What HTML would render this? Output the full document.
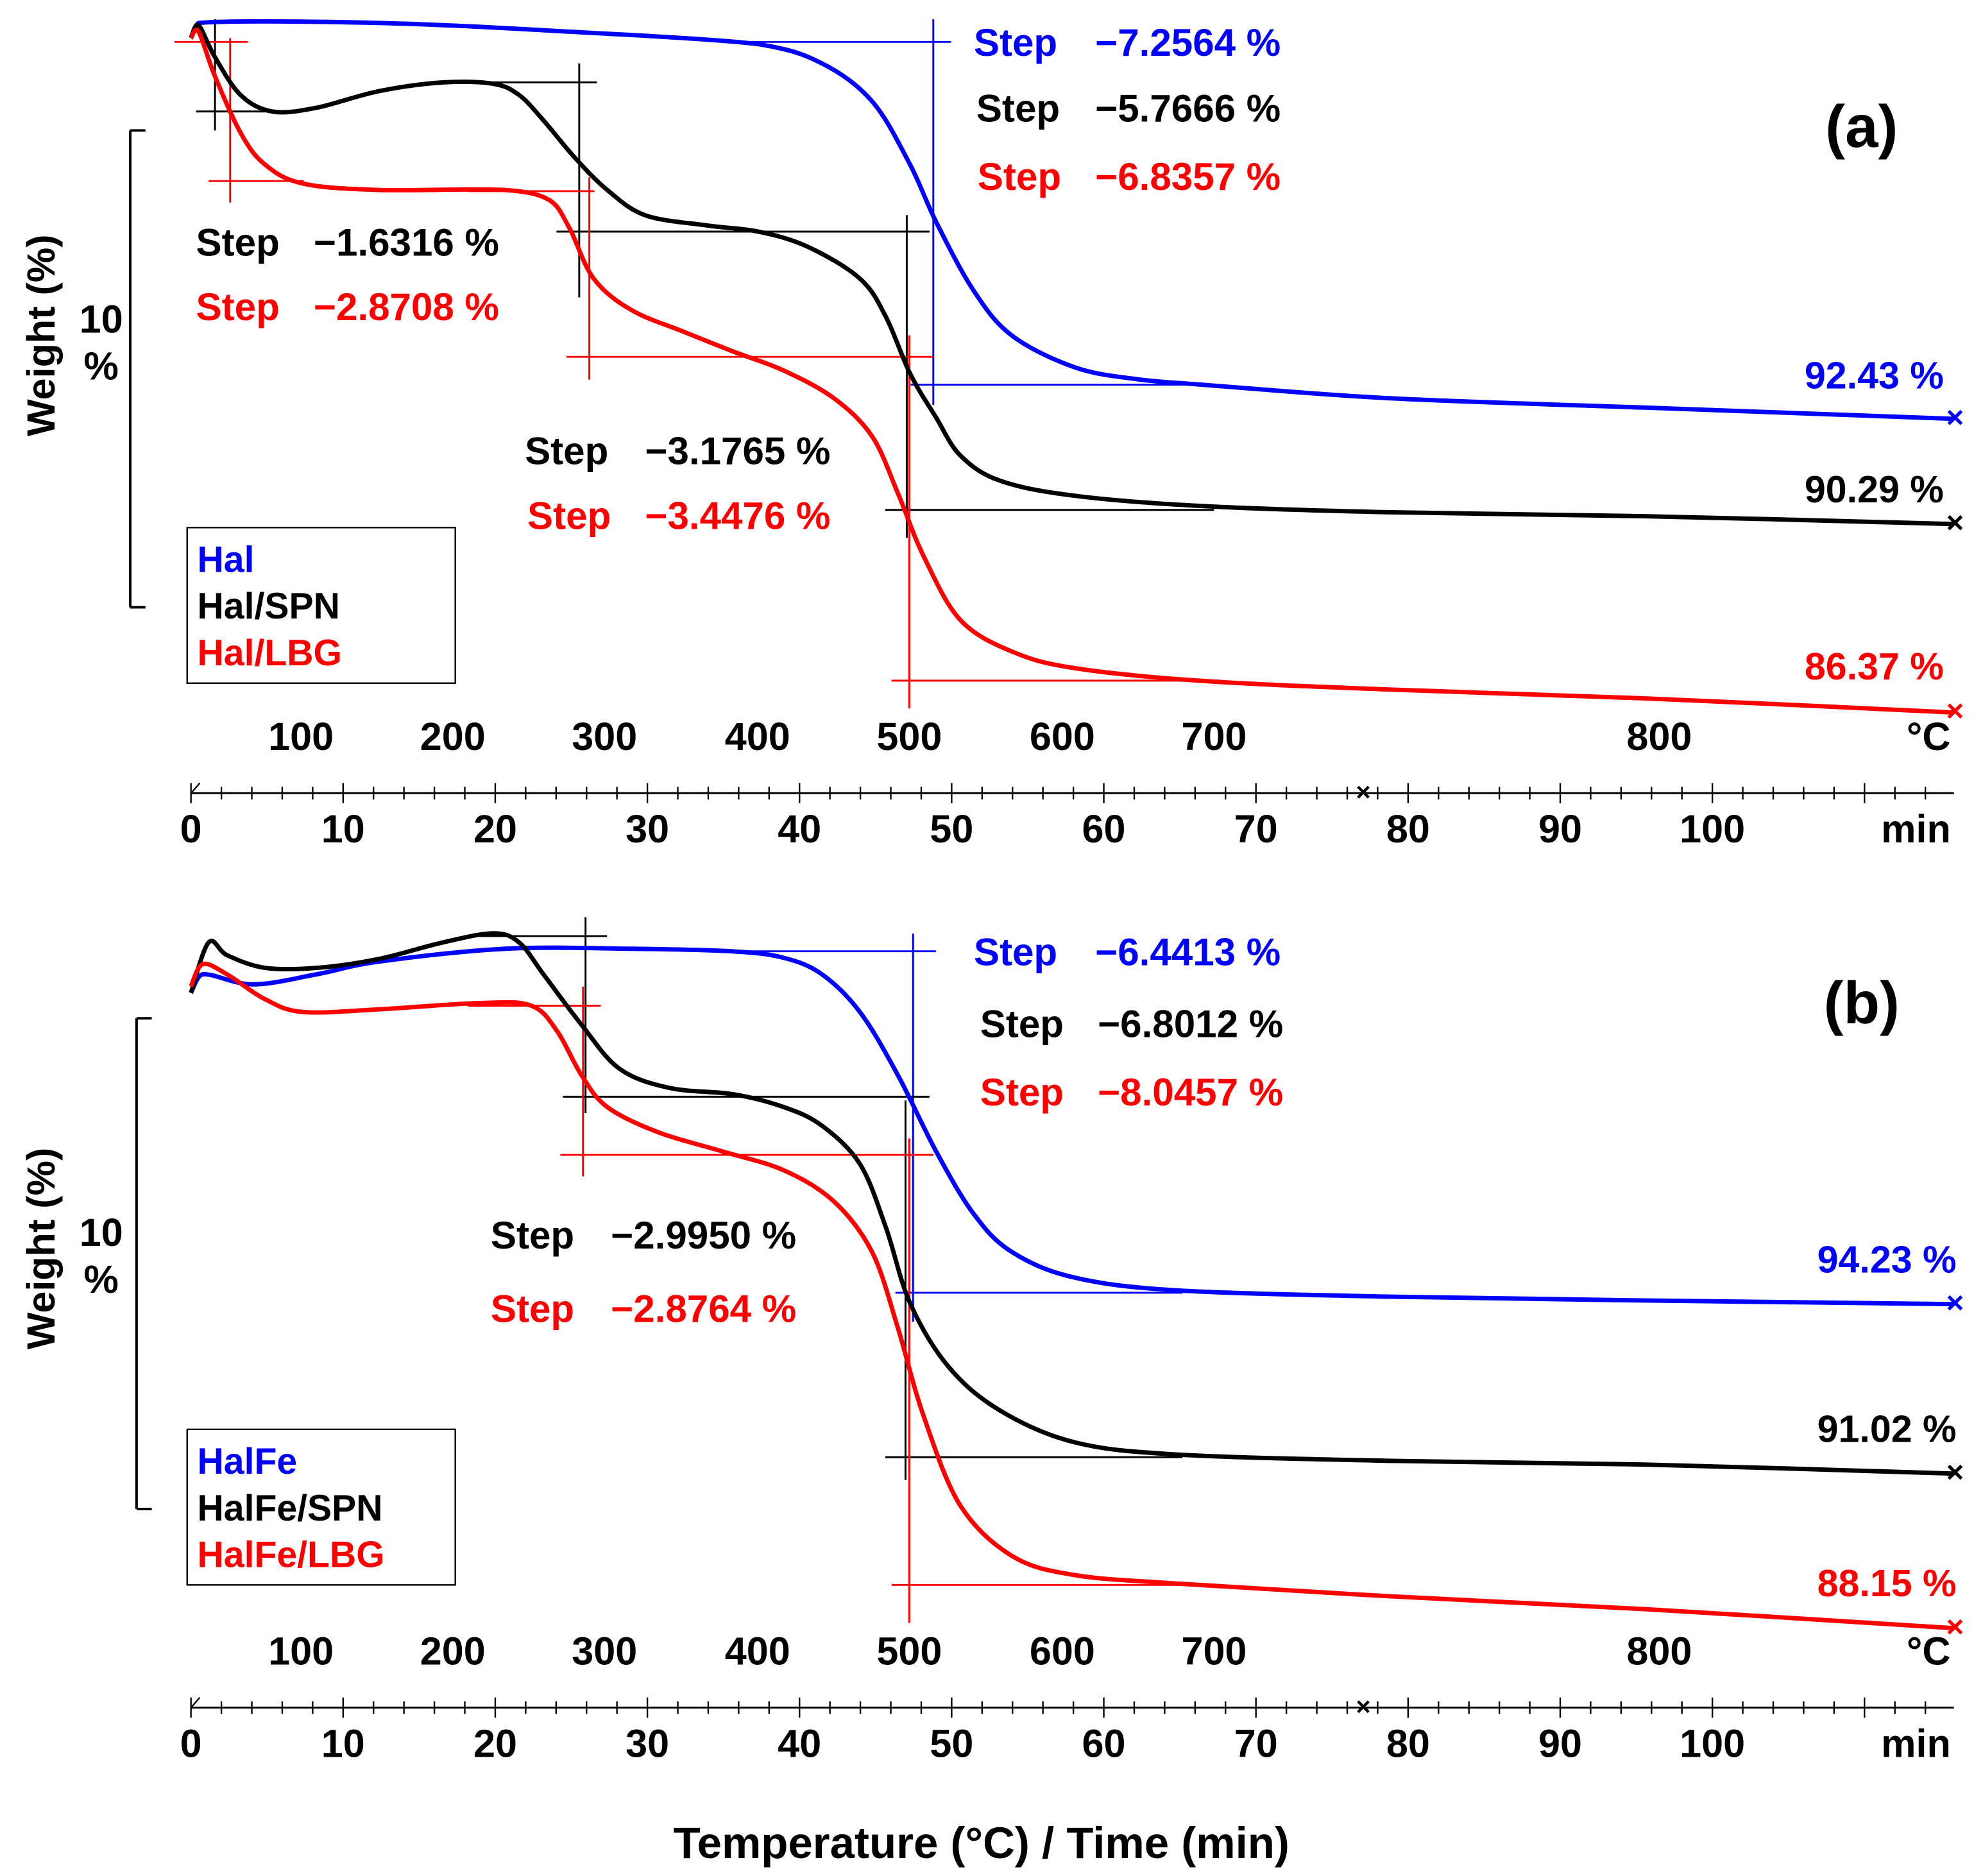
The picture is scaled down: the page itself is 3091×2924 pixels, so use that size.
<!DOCTYPE html>
<html><head><meta charset="utf-8"><style>
html,body{margin:0;padding:0;background:#fff}
svg{display:block}
text{font-family:"Liberation Sans",Arial,sans-serif;font-weight:bold}
</style></head><body>
<svg id="chart" width="3091" height="2924" viewBox="0 0 1568 1483" xmlns="http://www.w3.org/2000/svg">
<g id="static"></g>
<g id="curves"></g>
</svg>
<script>
// ---------- DATA ----------
const timeHalA = [0.33,0.83,12.7,25.2,37.7,41.8,45.1,47.6,49.3,51.8,54.3,58.4,62.6,67.6,79.2,95.8,116.2];
const wtHalA   = [100.25,100.56,100.56,100.38,100.12,99.73,98.95,97.65,96.48,95.05,94.14,93.49,93.24,93.11,92.85,92.66,92.43];
const timeSpnA = [0.33,0.83,1.9,3.6,5.7,8.6,12.7,16.9,20.2,21.9,23.5,25.6,27.7,30.2,34.3,37.7,40.9,44.3,46.0,47.6,49.3,50.9,53.5,58.4,66.7,79.2,95.8,116.2];
const wtSpnA   = [100.25,100.51,99.86,99.08,98.74,98.82,99.16,99.34,99.31,99.08,98.56,97.78,97.13,96.61,96.40,96.27,95.96,95.31,94.53,93.36,92.46,91.68,91.16,90.85,90.64,90.51,90.43,90.27];
const timeLbgA = [0.33,0.83,1.9,3.6,5.2,7.7,12.7,21.0,23.9,25.2,26.8,29.3,32.7,36.0,39.3,42.6,45.1,46.8,48.5,50.9,54.3,58.4,66.7,79.2,95.8,116.2];
const wtLbgA   = [100.25,100.38,99.47,98.30,97.65,97.26,97.13,97.13,96.92,96.35,95.31,94.66,94.22,93.81,93.42,92.85,92.07,90.90,89.60,88.30,87.65,87.31,87.05,86.87,86.69,86.40];

const timeHalB = [0.33,1.1,4.4,8.6,12.7,21.0,29.3,36.0,39.3,41.8,44.3,46.8,49.3,51.8,54.3,58.4,65.1,79.2,95.8,116.2];
const wtHalB   = [100.09,100.44,100.25,100.44,100.68,100.92,100.92,100.87,100.75,100.44,99.73,98.54,97.11,95.92,95.21,94.73,94.49,94.37,94.30,94.23];
const timeSpnB = [0.33,1.5,2.7,5.2,8.6,12.7,16.9,20.2,21.9,23.5,26.0,28.5,31.8,36.0,39.3,41.8,44.3,46.0,47.6,50.1,53.5,58.4,65.1,79.2,95.8,116.2];
const wtSpnB   = [100.09,101.04,100.80,100.56,100.56,100.73,101.04,101.21,101.04,100.44,99.49,98.66,98.30,98.18,97.94,97.59,96.87,95.68,94.25,93.06,92.23,91.63,91.40,91.28,91.21,91.04];
const timeLbgB = [0.33,1.1,2.7,5.2,7.7,12.7,19.4,22.7,24.4,26.0,27.7,31.0,35.2,39.3,42.6,45.1,46.8,48.5,50.9,54.3,58.4,65.1,79.2,95.8,116.2];
const wtLbgB   = [100.21,100.63,100.44,99.97,99.73,99.78,99.90,99.85,99.37,98.54,97.94,97.47,97.11,96.75,96.16,95.21,93.78,92.11,90.44,89.49,89.13,88.97,88.73,88.49,88.13];

const tempTicks = [100,200,300,400,500,600,700,800];
const tempTickX = [238,358,478,599,719,840,960,1312];
const timeTicks = [0,10,20,30,40,50,60,70,80,90,100];

// ---------- SCALES ----------
const xT = t => 147 + 12.03*t;
const yA = w => 331 + (92.43 - w)*38.5;
const yB = w => 1031 + (94.23 - w)*42;

const NS = "http://www.w3.org/2000/svg";
const S = document.getElementById('static');
const C = document.getElementById('curves');
function mk(tag, attrs, parent){const e=document.createElementNS(NS,tag);for(const k in attrs)e.setAttribute(k,attrs[k]);(parent||S).appendChild(e);return e;}
function txt(x,y,s,fill,size,anchor,name){const e=mk('text',{x:x,y:y,fill:fill,'font-size':size,'text-anchor':anchor||'start'});e.textContent=s;


return e;}
function ln(x1,y1,x2,y2,col,w,name){const e=mk('line',{x1:x1,y1:y1,x2:x2,y2:y2,stroke:col,'stroke-width':w||1.5});


return e;}
function smooth(pts){let d='M'+pts[0][0]+','+pts[0][1];for(let i=0;i<pts.length-1;i++){const p0=pts[Math.max(i-1,0)],p1=pts[i],p2=pts[i+1],p3=pts[Math.min(i+2,pts.length-1)];
const dx=p2[0]-p1[0];
let c1x=p1[0]+(p2[0]-p0[0])/6, c2x=p2[0]-(p3[0]-p1[0])/6;
c1x=Math.min(Math.max(c1x,p1[0]),p1[0]+dx*0.5); c2x=Math.max(Math.min(c2x,p2[0]),p2[0]-dx*0.5);
const c1=[c1x,p1[1]+(p2[1]-p0[1])/6],c2=[c2x,p2[1]-(p3[1]-p1[1])/6];
d+=' C'+c1[0].toFixed(1)+','+c1[1].toFixed(1)+' '+c2[0].toFixed(1)+','+c2[1].toFixed(1)+' '+p2[0].toFixed(1)+','+p2[1].toFixed(1);}return d;}
function curve(ts,ws,ys,col,name){const pts=ts.map((t,i)=>[xT(t),ys(ws[i])]);
const p=mk('path',{d:smooth(pts),fill:'none',stroke:col,'stroke-width':3.5},C);


const l=pts[pts.length-1];
const m=txt(l[0]+1,l[1]+7,'×',col,24,'middle',name+'-end-marker');C.appendChild(m);}

const BL='#0000ff',BK='#000000',RD='#ff0000';
curve(timeHalA,wtHalA,yA,BL,'curve-hal');
curve(timeSpnA,wtSpnA,yA,BK,'curve-hal-spn');
curve(timeLbgA,wtLbgA,yA,RD,'curve-hal-lbg');
curve(timeHalB,wtHalB,yB,BL,'curve-halfe');
curve(timeSpnB,wtSpnB,yB,BK,'curve-halfe-spn');
curve(timeLbgB,wtLbgB,yB,RD,'curve-halfe-lbg');

// ---------- PANEL FRAMES ----------
function panel(off,bracketTop,bracketBot,bx,label){
  const wl=txt(0,0,'Weight (%)','#000',31,'middle','y-axis-title');
  wl.setAttribute('transform','translate(43,'+(265+off.wy)+') rotate(-90)');
  txt(80,265+off.wy-2,'10','#000',31,'middle','scale-bar-value');
  txt(80,302+off.wy-2,'%','#000',31,'middle','scale-bar-unit');
  ln(bx+12,bracketTop,bx,bracketTop,'#000',2,'scale-bar-top');
  ln(bx,bracketTop,bx,bracketBot,'#000',2,'scale-bar');
  ln(bx,bracketBot,bx+12,bracketBot,'#000',2,'scale-bar-bottom');
  tempTicks.forEach((v,i)=>txt(tempTickX[i],593+off.y,String(v),'#000',31,'middle','temperature-tick-label'));
  txt(1525,593+off.y,'°C','#000',31,'middle','temperature-unit');
  const ay=627+off.y;
  ln(151,ay,1545,ay,'#000',1.5,'time-axis-line');
  for(let t=0;t<=115;t+=2){const x=xT(t)+4;const major=t%10===0;ln(x,ay-(major?8:5),x,ay+(major?8:5),'#000',1.2,'time-tick');}
  txt(1078,ay+6,'×','#000',20,'middle','axis-break');
  ln(151,ay,158,ay-8,'#000',1.2,'axis-arrow');
  timeTicks.forEach(v=>txt(xT(v)+4,666+off.y,String(v),'#000',31,'middle','time-tick-label'));
  txt(1515,666+off.y,'min','#000',31,'middle','time-unit');
  txt(1472,116+off.y2,label,'#000',47,'middle','panel-label');
}
panel({y:0,wy:0,y2:0},103,480,103,'(a)');
panel({y:723,wy:722,y2:693},805,1193,108,'(b)');

function legend(y0,names){const r=mk('rect',{x:148,y:y0,width:212,height:123,fill:'none',stroke:'#000','stroke-width':1.2});

[BL,BK,RD].forEach((c,i)=>txt(156,y0+35+i*37,names[i],c,29,'start','legend-entry'));}
legend(417,['Hal','Hal/SPN','Hal/LBG']);
legend(1130,['HalFe','HalFe/SPN','HalFe/LBG']);

function step(x,vx,y,val,c){txt(x,y,'Step',c,30.5,'start','step-label');txt(vx,y,'\u2212'+val+' %',c,30.5,'start','step-value');}
step(770,866,44,'7.2564',BL);step(772,866,96,'5.7666',BK);step(773,866,150,'6.8357',RD);
step(155,248,202,'1.6316',BK);step(155,248,253,'2.8708',RD);
step(415,510,367,'3.1765',BK);step(417,510,418,'3.4476',RD);
step(770,866,763,'6.4413',BL);step(775,868,820,'6.8012',BK);step(775,868,874,'8.0457',RD);
step(388,483,987,'2.9950',BK);step(388,483,1045,'2.8764',RD);

txt(1537,307,'92.43 %',BL,30,'end','residue-hal');
txt(1537,397,'90.29 %',BK,30,'end','residue-hal-spn');
txt(1537,537,'86.37 %',RD,30,'end','residue-hal-lbg');
txt(1547,1006,'94.23 %',BL,30,'end','residue-halfe');
txt(1547,1140,'91.02 %',BK,30,'end','residue-halfe-spn');
txt(1547,1262,'88.15 %',RD,30,'end','residue-halfe-lbg');

const A=[
[580,33,752,33,BL],[738,15,738,320,BL],[720,304,960,304,BL],
[170,15,170,103,BK],[155,88,225,88,BK],[380,65,472,65,BK],[458,50,458,235,BK],[440,183,735,183,BK],[717,170,717,425,BK],[700,403,960,403,BK],
[138,33,196,33,RD],[182,30,182,160,RD],[165,143,240,143,RD],[370,151,470,151,RD],[466,140,466,300,RD],[448,282,738,282,RD],[719,265,719,560,RD],[705,538,965,538,RD],
[570,752,740,752,BL],[722,738,722,1045,BL],[708,1022,935,1022,BL],
[380,740,480,740,BK],[463,725,463,880,BK],[445,867,735,867,BK],[716,870,716,1170,BK],[700,1152,935,1152,BK],
[370,795,475,795,RD],[461,780,461,930,RD],[443,913,738,913,RD],[719,900,719,1283,RD],[705,1253,935,1253,RD]];
A.forEach(a=>ln(a[0],a[1],a[2],a[3],a[4],1.5,'step-construction-line'));

txt(776,1469,'Temperature (°C) / Time (min)','#000',35,'middle','x-axis-title');
</script>
</body></html>
